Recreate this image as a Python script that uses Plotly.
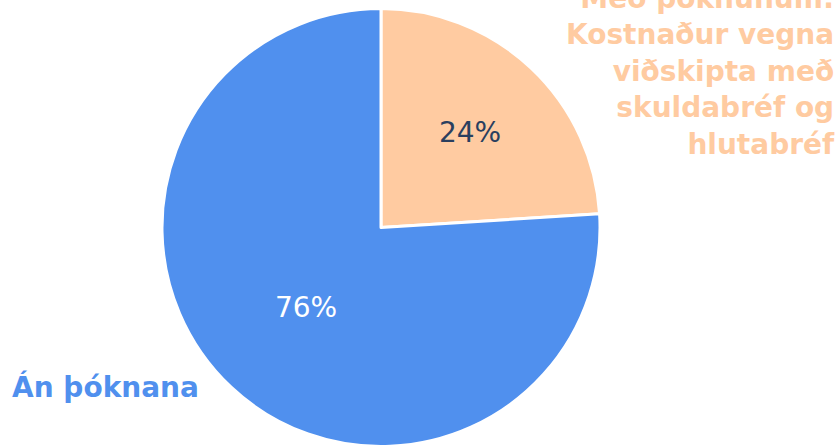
import plotly.graph_objects as go

labels = ["Með þóknunum: Kostnaður vegna viðskipta með skuldabréf og hlutabréf", "Án þóknana"]
label_lines = ["Með þóknunum:<br>Kostnaður vegna<br>viðskipta með<br>skuldabréf og<br>hlutabréf", "Án þóknana"]
values = [24, 76]
colors = ["#FFCBA1", "#5090EE"]
pct_colors = ["#2a3f5f", "#ffffff"]

fig = go.Figure(go.Pie(
    labels=labels,
    values=values,
    sort=False,
    direction="clockwise",
    rotation=0,
    textinfo="percent",
    textposition="inside",
    insidetextorientation="horizontal",
    textfont=dict(family="DejaVu Sans", size=28, color=pct_colors),
    marker=dict(colors=colors, line=dict(color="white", width=3)),
    domain=dict(x=[0.1933, 0.716], y=[0.0, 0.982]),
    showlegend=False,
    hoverinfo="label+percent",
))

fig.add_annotation(
    text="<b>" + label_lines[0] + "</b>", x=837 / 838, y=0.839, xref="paper", yref="paper",
    xanchor="right", yanchor="middle", align="right", showarrow=False,
    font=dict(family="DejaVu Sans", size=28, color=colors[0]),
)
fig.add_annotation(
    text="<b>" + label_lines[1] + "</b>", x=10 / 838, y=0.134, xref="paper", yref="paper",
    xanchor="left", yanchor="middle", align="left", showarrow=False,
    font=dict(family="DejaVu Sans", size=28, color=colors[1]),
)

fig.update_layout(
    width=838, height=447,
    margin=dict(l=0, r=0, t=0, b=0),
    paper_bgcolor="white", plot_bgcolor="white",
    font=dict(family="DejaVu Sans"),
)

fig.write_html(
    "out.html",
    config={"displayModeBar": False},
    post_script="document.body.style.margin='0';document.body.style.overflow='hidden';",
)
